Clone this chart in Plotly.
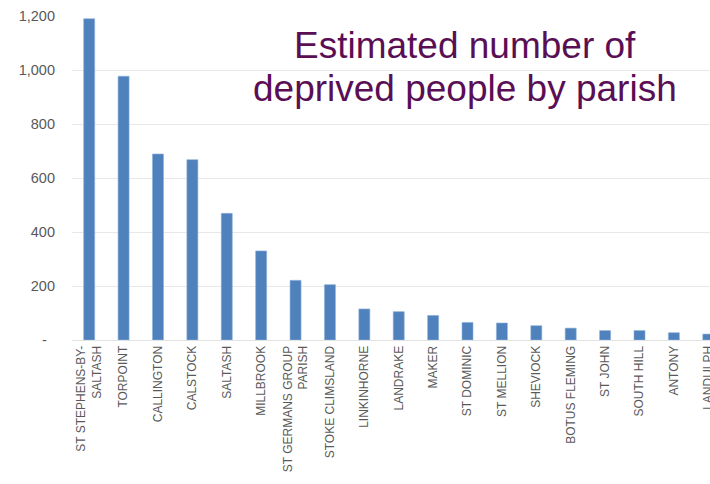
import plotly.graph_objects as go

parishes = ["ST STEPHENS-BY-<br>SALTASH", "TORPOINT", "CALLINGTON", "CALSTOCK", "SALTASH",
            "MILLBROOK", "ST GERMANS GROUP<br>PARISH", "STOKE CLIMSLAND", "LINKINHORNE",
            "LANDRAKE", "MAKER", "ST DOMINIC", "ST MELLION", "SHEVIOCK", "BOTUS FLEMING",
            "ST JOHN", "SOUTH HILL", "ANTONY", "LANDULPH"]
deprived = [1190, 977, 689, 668, 469, 330, 221, 205, 115, 105, 91, 65, 63, 53, 44, 35, 35, 27, 22]

y_tickvals = [0, 200, 400, 600, 800, 1000, 1200]
y_ticktext = ["-\u2007", "200", "400", "600", "800", "1,000", "1,200"]

title_lines = ["Estimated number of", "deprived people by parish"]

PLOT_TOP, PLOT_BOTTOM, PLOT_LEFT, PLOT_W = 16, 340, 72, 638


def ypaper(pix):
    return (PLOT_BOTTOM - pix) / (PLOT_BOTTOM - PLOT_TOP)


fig = go.Figure(go.Bar(
    x=list(range(len(parishes))), y=deprived,
    marker=dict(color="#4F81BD", line=dict(color="#8FB0DA", width=0.6)),
    width=0.32,
))

fig.update_layout(
    width=710, height=484,
    margin=dict(l=PLOT_LEFT, r=0, t=PLOT_TOP, b=484 - PLOT_BOTTOM),
    plot_bgcolor="white", paper_bgcolor="white",
    showlegend=False,
    font=dict(family="Liberation Sans, Arial, sans-serif", color="#595959"),
    xaxis=dict(
        tickmode="array", tickvals=list(range(len(parishes))), ticktext=parishes,
        tickangle=-90, range=[-0.5, 18.05], showgrid=False, zeroline=False,
        showline=True, linecolor="#e3e3e3", linewidth=1, automargin=False,
        tickfont=dict(size=12, color="#595959"), ticks="", ticklen=0,
        ticklabeloverflow="allow",
    ),
    yaxis=dict(
        range=[0, 1200], tickmode="array", tickvals=y_tickvals, ticktext=y_ticktext,
        showgrid=True, gridcolor="#e8e8e8", gridwidth=1, zeroline=False, automargin=False,
        showline=False, tickfont=dict(size=14.5, color="#595959"), ticks="",
        ticklabelstandoff=16,
    ),
    annotations=[
        dict(text=title_lines[0], xref="paper", yref="paper",
             x=(465 - PLOT_LEFT) / PLOT_W, y=ypaper(46),
             xanchor="center", yanchor="middle", showarrow=False,
             font=dict(size=37, color="#5A0F55", family="Liberation Sans, Arial, sans-serif")),
        dict(text=title_lines[1], xref="paper", yref="paper",
             x=(465 - PLOT_LEFT) / PLOT_W, y=ypaper(88),
             xanchor="center", yanchor="middle", showarrow=False,
             font=dict(size=37, color="#5A0F55", family="Liberation Sans, Arial, sans-serif")),
    ],
)

fig.write_html(
    "out.html",
    config={"displayModeBar": False},
    post_script="document.body.style.margin='0';document.body.style.overflow='hidden';",
)
